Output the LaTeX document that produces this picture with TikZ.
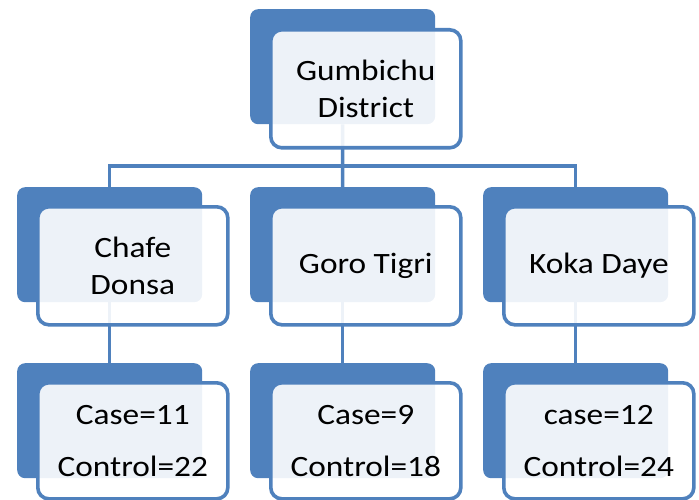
\documentclass[tikz,border=0pt]{standalone}
\usepackage{fontspec}
\setmainfont{Carlito}[FakeStretch=1.13]
\definecolor{sablue}{HTML}{4F81BD}
\tikzset{
  backbox/.style={draw=none, fill=sablue, rounded corners=8pt, minimum width=185pt, minimum height=115pt, anchor=north west, inner sep=0pt},
  frontbox/.style={draw=sablue, line width=3.6pt, fill=white, fill opacity=0.9, text opacity=1, rounded corners=11pt, minimum width=190pt, minimum height=118pt, anchor=north west, align=center, inner sep=0pt, text=black, font=\fontsize{29.5}{37}\selectfont},
  leafbox/.style={frontbox, font=\fontsize{29.5}{52}\selectfont},
  link/.style={draw=sablue, line width=3.5pt}
}
\begin{document}
\begin{tikzpicture}[x=1pt,y=-1pt]
\useasboundingbox (0,0) rectangle (699,500);
% back boxes
\node[backbox] (b0) at (250,9) {};
\node[backbox] (b1) at (17,187) {};
\node[backbox] (b2) at (250,187) {};
\node[backbox] (b3) at (483,187) {};
\node[backbox] (c1) at (17,363) {};
\node[backbox] (c2) at (250,363) {};
\node[backbox] (c3) at (483,363) {};
% connectors
\coordinate (hub) at (342.5,166);
\draw[link] (b0.south) -- (hub);
\draw[link] (hub) -| (b1.north);
\draw[link] (hub) -| (b3.north);
\draw[link] (hub) -- (b2.north);
\draw[link] (b1.south) -- (c1.north);
\draw[link] (b2.south) -- (c2.north);
\draw[link] (b3.south) -- (c3.north);
% front boxes
\node[frontbox] (f0) at (269,28) {Gumbichu\\District};
\node[frontbox] (f1) at (36,205) {Chafe\\Donsa};
\node[frontbox] (f2) at (269,205) {Goro Tigri};
\node[frontbox] (f3) at (502,205) {Koka Daye};
\node[leafbox, minimum height=116pt] (g1) at (36,381) {Case=11\\Control=22};
\node[leafbox, minimum height=116pt] (g2) at (269,381) {Case=9\\Control=18};
\node[leafbox, minimum height=116pt] (g3) at (502,381) {case=12\\Control=24};
\end{tikzpicture}
\end{document}
